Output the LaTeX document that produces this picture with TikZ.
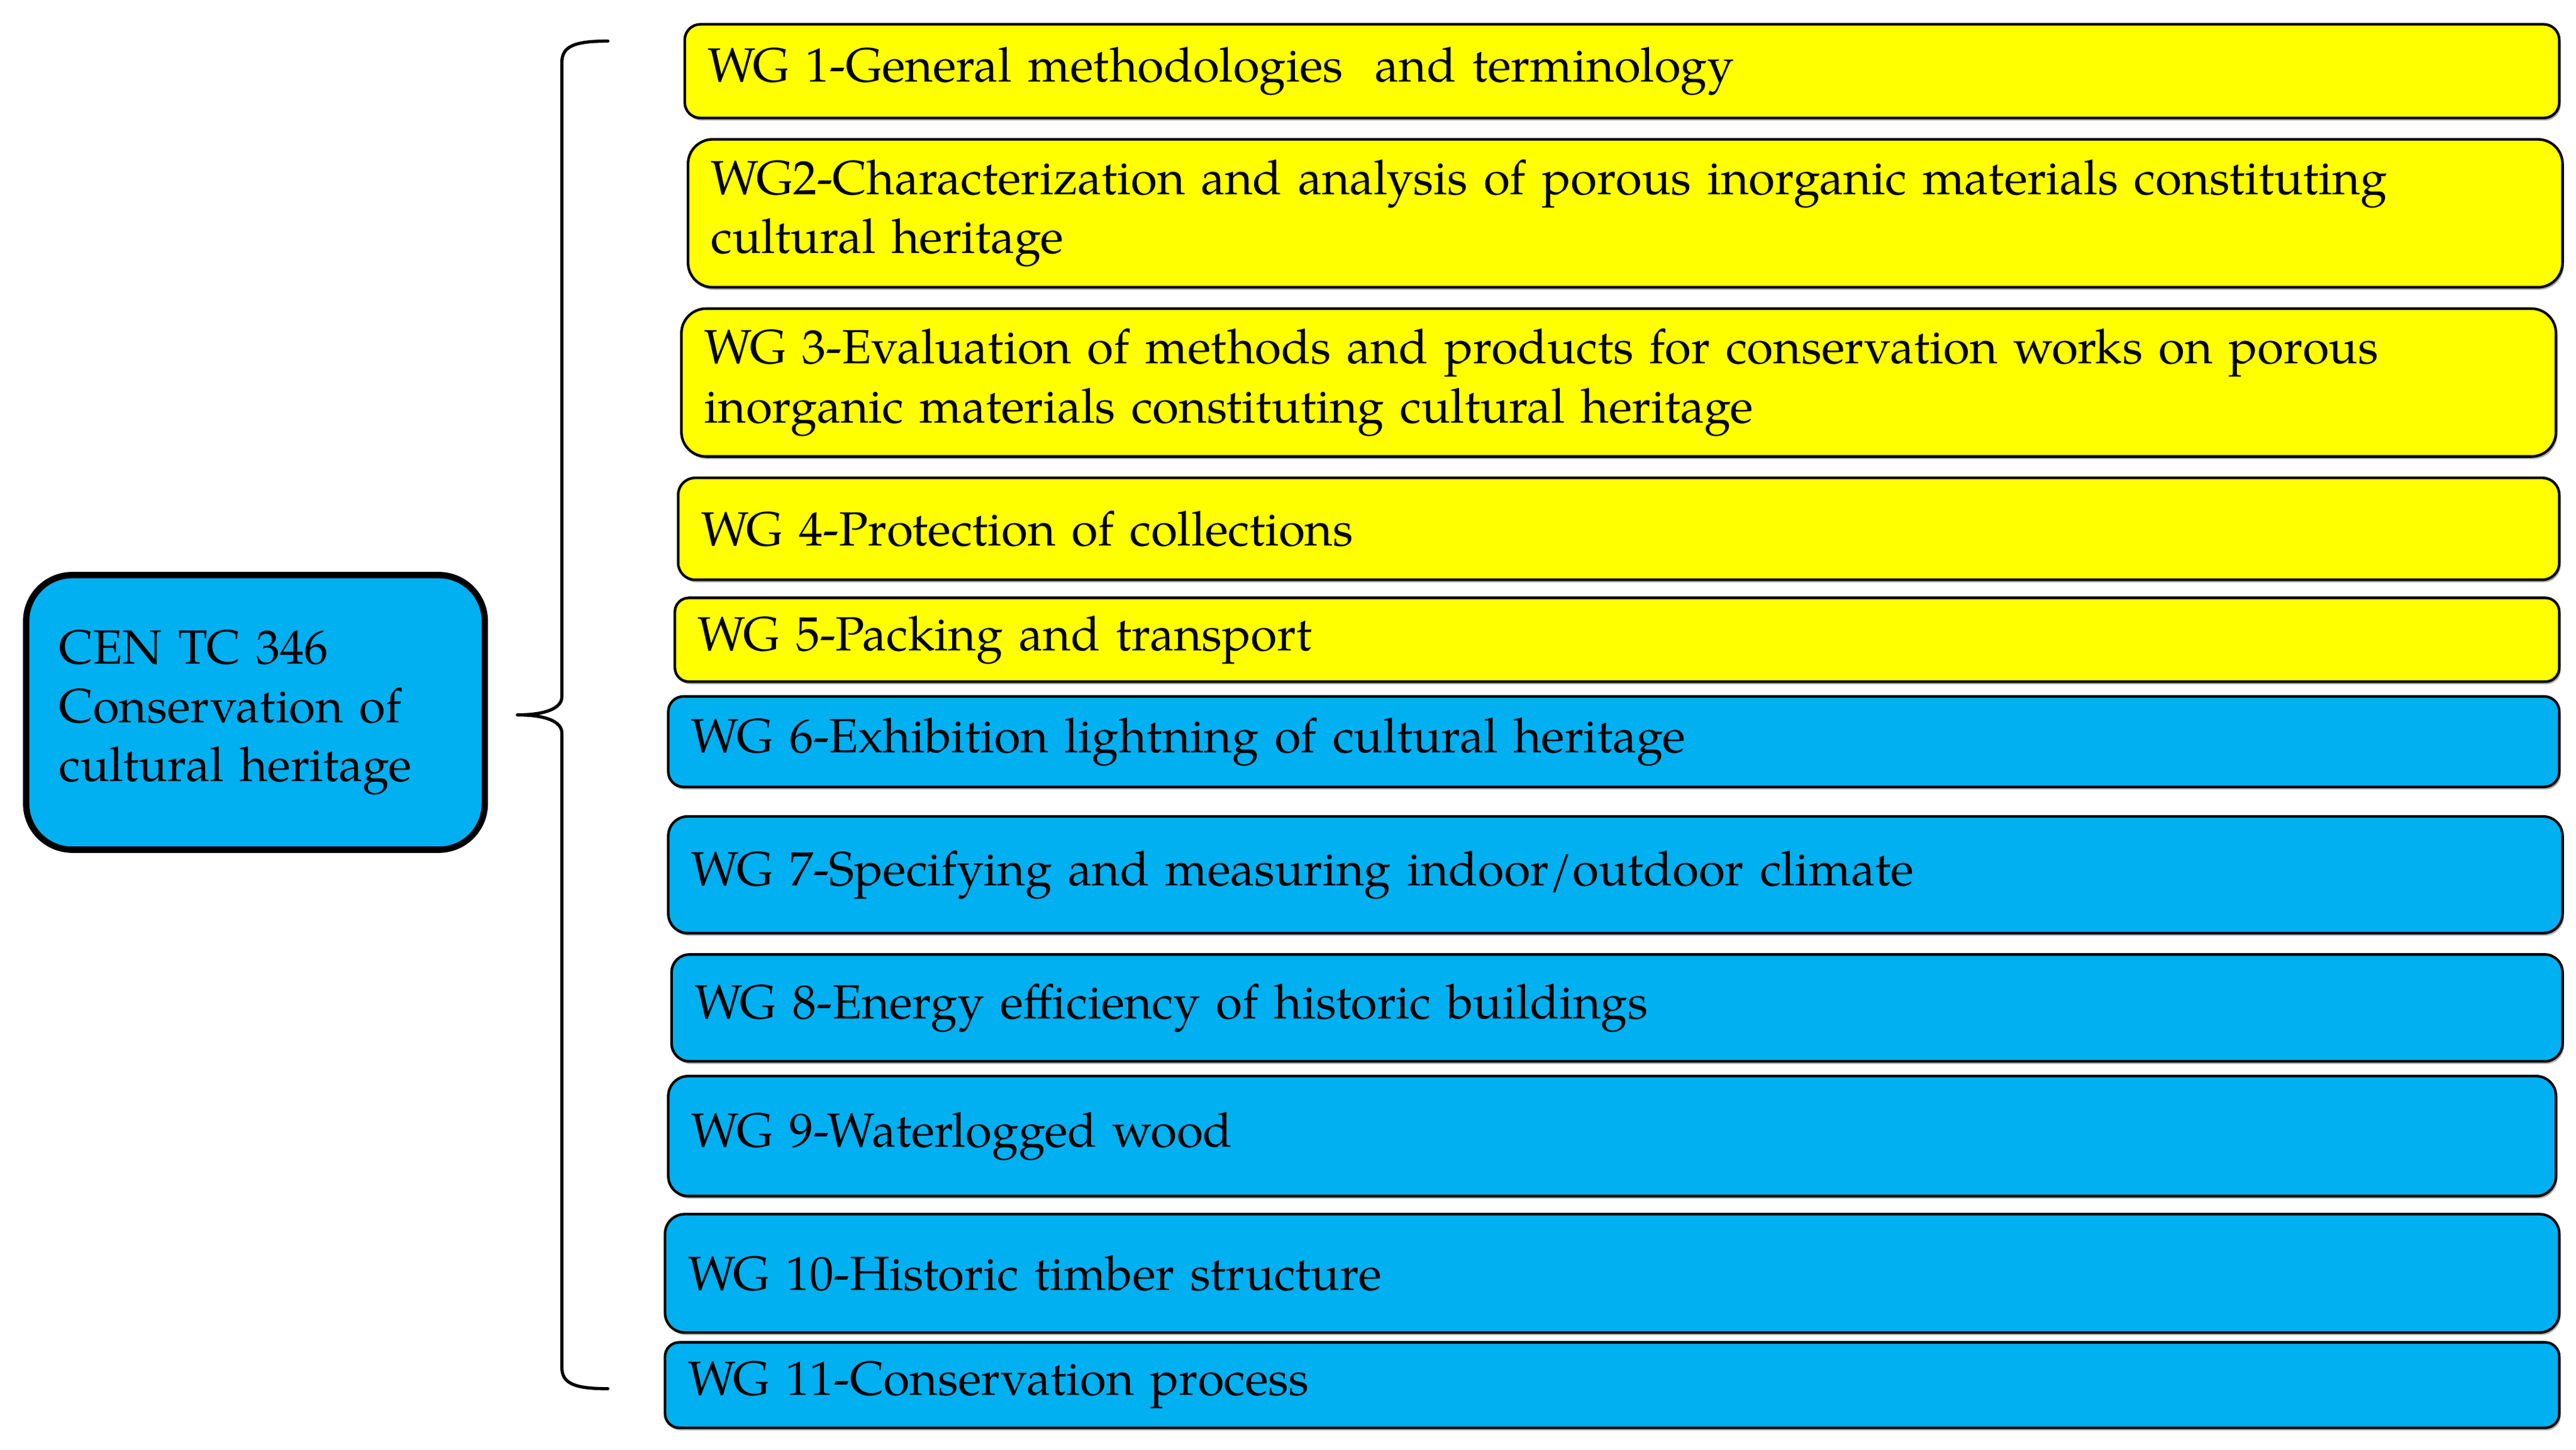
\documentclass[tikz,border=0pt]{standalone}
\usepackage{fontspec}
\setmainfont{TeX Gyre Pagella}
\usetikzlibrary{shadows}
\definecolor{wgyellow}{HTML}{FFFF00}
\definecolor{wgblue}{HTML}{00B0F0}
\newcommand\wgbox[7]{%
  \pgfmathsetmacro\wgh{(#5-#3)*0.01}%
  \pgfmathsetmacro\wgr{(#5-#3)*0.01/6}%
  \pgfmathsetmacro\wgtw{(#4-#2)*0.01-0.28}%
  \node[wg, fill=#6, minimum height=\wgh cm, text width=\wgtw cm, rounded corners=\wgr cm] (#1) at (#2,#3) {#7};%
}
\begin{document}
\begin{tikzpicture}[x=0.01cm,y=-0.01cm,
  font=\fontsize{8.3}{10.2}\selectfont,
  softshadow/.style={drop shadow={shadow xshift=0.25pt, shadow yshift=-0.45pt, fill=black, opacity=0.3}},
  wg/.style={draw=black, line width=0.45pt, anchor=north west, inner xsep=0.14cm, inner ysep=0pt, align=left, softshadow},
  mainbox/.style={draw=black, line width=1.1pt, fill=wgblue, anchor=north west, inner xsep=0.2cm, inner ysep=0pt,
    minimum height=1.67cm, text width=2.39cm, align=left, rounded corners=0.28cm, softshadow},
  braceline/.style={draw=black, line width=0.55pt, line cap=round, line join=round}
]
\useasboundingbox (0,0) rectangle (1568,882);

\node[mainbox] (tc) at (14,348) {CEN TC 346\\Conservation of\\cultural heritage};

\wgbox{wg1}{416}{14}{1557}{71}{wgyellow}{WG 1-General methodologies\ \ and terminology}
\wgbox{wg2}{418}{84}{1559}{174}{wgyellow}{WG2-Characterization and analysis of porous inorganic materials constituting\\cultural heritage}
\wgbox{wg3}{414}{187}{1555}{277}{wgyellow}{WG 3-Evaluation of methods and products for conservation works on porous\\inorganic materials constituting cultural heritage}
\wgbox{wg4}{412}{290}{1557}{352}{wgyellow}{WG 4-Protection of collections}
\wgbox{wg5}{410}{363}{1557}{414}{wgyellow}{WG 5-Packing and transport}
\wgbox{wg6}{406}{423}{1557}{478}{wgblue}{WG 6-Exhibition lightning of cultural heritage}
\wgbox{wg7}{406}{496}{1559}{567}{wgblue}{WG 7-Specifying and measuring indoor/outdoor climate}
\wgbox{wg8}{408}{580}{1559}{645}{wgblue}{WG 8-Energy efficiency of historic buildings}
\wgbox{wg9}{406}{654}{1555}{727}{wgblue}{WG 9-Waterlogged wood}
\wgbox{wg10}{404}{738}{1557}{810}{wgblue}{WG 10-Historic timber structure}
\wgbox{wg11}{404}{816}{1557}{868}{wgblue}{WG 11-Conservation process}

\coordinate (btop) at (370,25);
\coordinate (bbot) at (370,845);
\coordinate (btip) at (315,435);
\draw[braceline] (btop) .. controls (350,25) and (342,28) .. (342,38) -- (342,424)
  .. controls (342,431) and (332,435) .. (btip)
  .. controls (332,435) and (342,439) .. (342,446) -- (342,832)
  .. controls (342,842) and (350,845) .. (bbot);
\end{tikzpicture}
\end{document}
